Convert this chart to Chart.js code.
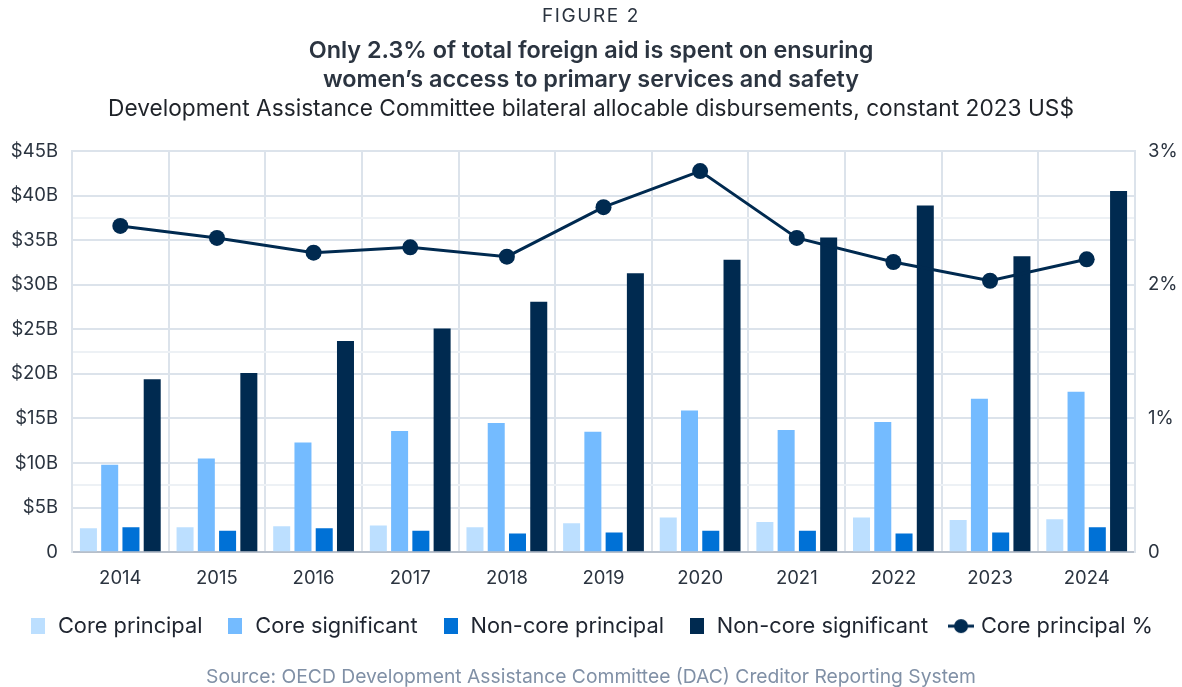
<!DOCTYPE html>
<html>
<head>
<meta charset="utf-8">
<script src="https://cdn.jsdelivr.net/npm/chart.js@4.4.1/dist/chart.umd.min.js"></script>
<style>
  html, body { margin: 0; padding: 0; background: #ffffff; }
  body { width: 1182px; height: 687px; position: relative; overflow: hidden; font-family: Inter, "Noto Sans", sans-serif; }
  .line { position: absolute; left: 0; width: 1182px; text-align: center; white-space: nowrap; }
  #fig { top: 4px; font-size: 19px; line-height: 24px; letter-spacing: 1.6px; color: #2b3440; }
  #t1 { top: 36px; font-size: 23.4px; line-height: 28px; font-weight: 600; color: #2b3440; }
  #t2 { top: 65px; font-size: 23.4px; line-height: 28px; font-weight: 600; color: #2b3440; }
  #sub { top: 94px; font-size: 22.7px; line-height: 28px; color: #1f2329; }
  #src { top: 664px; font-size: 19.3px; line-height: 24px; color: #8090a6; }
  #wrap { position: absolute; left: 0; top: 0; width: 1182px; height: 687px; }
</style>
</head>
<body>
<div id="wrap"><canvas id="chart" width="1182" height="687"></canvas></div>
<div class="line" id="fig">FIGURE 2</div>
<div class="line" id="t1">Only 2.3% of total foreign aid is spent on ensuring</div>
<div class="line" id="t2">women’s access to primary services and safety</div>
<div class="line" id="sub">Development Assistance Committee bilateral allocable disbursements, constant 2023 US$</div>
<div class="line" id="src">Source: OECD Development Assistance Committee (DAC) Creditor Reporting System</div>
<script>
// Years on the category axis
const years = ['2014', '2015', '2016', '2017', '2018', '2019', '2020', '2021', '2022', '2023', '2024'];

// Disbursements, billions of constant 2023 US$
const corePrincipal      = [2.7, 2.8, 2.9, 3.0, 2.8, 3.25, 3.9, 3.4, 3.9, 3.6, 3.7];
const coreSignificant    = [9.8, 10.5, 12.3, 13.6, 14.5, 13.5, 15.9, 13.7, 14.6, 17.2, 18.0];
const nonCorePrincipal   = [2.8, 2.4, 2.7, 2.4, 2.1, 2.2, 2.4, 2.4, 2.1, 2.2, 2.8];
const nonCoreSignificant = [19.4, 20.1, 23.7, 25.1, 28.1, 31.3, 32.8, 35.3, 38.9, 33.2, 40.5];

// Core principal share of total aid, percent
const corePrincipalPct   = [2.44, 2.35, 2.24, 2.28, 2.21, 2.58, 2.85, 2.35, 2.17, 2.03, 2.19];

// Axis tick values
const dollarTicks  = [0, 5, 10, 15, 20, 25, 30, 35, 40, 45];
const percentTicks = [0, 0.5, 1, 1.5, 2, 2.5, 3];

const C_LIGHT = '#bcdfff';
const C_MID   = '#74bbff';
const C_BLUE  = '#0071d6';
const C_NAVY  = '#002a50';
const GRID    = '#dce3eb';
const INK     = '#2b3440';

Chart.defaults.font.family = 'Inter, "Noto Sans", sans-serif';
Chart.defaults.color = INK;

// Legend icons drawn onto small canvases
function boxIcon(color) {
  const c = document.createElement('canvas');
  c.width = 14; c.height = 16;
  const g = c.getContext('2d');
  g.fillStyle = color;
  g.fillRect(0, 0, 14, 16);
  return c;
}
function lineIcon(color) {
  const c = document.createElement('canvas');
  c.width = 26; c.height = 16;
  const g = c.getContext('2d');
  g.strokeStyle = color; g.lineWidth = 3;
  g.beginPath(); g.moveTo(0, 8); g.lineTo(26, 8); g.stroke();
  g.fillStyle = color;
  g.beginPath(); g.arc(13, 8, 7, 0, Math.PI * 2); g.fill();
  return c;
}

const datasets = [
  {
    type: 'line', label: 'Core principal %', data: corePrincipalPct, yAxisID: 'yPct',
    borderColor: C_NAVY, backgroundColor: C_NAVY, borderWidth: 3,
    pointRadius: 8, pointHoverRadius: 8, pointBackgroundColor: C_NAVY, pointBorderWidth: 0,
    tension: 0, icon: lineIcon(C_NAVY), legendRank: 4
  },
  { type: 'bar', label: 'Core principal', data: corePrincipal, backgroundColor: C_LIGHT, yAxisID: 'y', icon: boxIcon(C_LIGHT), legendRank: 0 },
  { type: 'bar', label: 'Core significant', data: coreSignificant, backgroundColor: C_MID, yAxisID: 'y', icon: boxIcon(C_MID), legendRank: 1 },
  { type: 'bar', label: 'Non-core principal', data: nonCorePrincipal, backgroundColor: C_BLUE, yAxisID: 'y', icon: boxIcon(C_BLUE), legendRank: 2 },
  { type: 'bar', label: 'Non-core significant', data: nonCoreSignificant, backgroundColor: C_NAVY, yAxisID: 'y', icon: boxIcon(C_NAVY), legendRank: 3 }
];

new Chart(document.getElementById('chart'), {
  data: { labels: years, datasets },
  options: {
    responsive: false,
    animation: false,
    events: [],
    categoryPercentage: 0.88,
    barPercentage: 0.8,
    layout: { padding: { top: 151, bottom: 40, left: 0, right: 0 } },
    plugins: {
      tooltip: { enabled: false },
      legend: {
        position: 'bottom',
        labels: {
          usePointStyle: true,
          pointStyleWidth: 18,
          boxHeight: 16,
          padding: 24,
          color: '#1f2530',
          font: { size: 21.8 },
          generateLabels(chart) {
            const items = Chart.defaults.plugins.legend.labels.generateLabels(chart);
            items.forEach(it => { it.pointStyle = chart.data.datasets[it.datasetIndex].icon; });
            return items;
          },
          sort: (a, b, data) => data.datasets[a.datasetIndex].legendRank - data.datasets[b.datasetIndex].legendRank
        }
      }
    },
    scales: {
      x: {
        grid: { offset: true, color: GRID, lineWidth: 2, drawTicks: false },
        border: { color: '#b7bfca', width: 2 },
        ticks: { padding: 15, font: { size: 18.5 }, color: INK },
        afterFit(s) { s.height = 39; }
      },
      y: {
        position: 'left',
        min: 0, max: 45,
        afterBuildTicks(s) { s.ticks = dollarTicks.map(v => ({ value: v })); },
        grid: { color: GRID, lineWidth: 2, drawTicks: false },
        border: { color: GRID, width: 2 },
        ticks: {
          padding: 14, font: { size: 18.5 }, color: INK,
          callback: v => (v === 0 ? '0' : '$' + v + 'B')
        },
        afterFit(s) { s.width = 72; }
      },
      yPct: {
        position: 'right',
        min: 0, max: 3,
        afterBuildTicks(s) { s.ticks = percentTicks.map(v => ({ value: v })); },
        grid: {
          drawTicks: false, lineWidth: 2,
          color: ctx => (ctx.tick && ctx.tick.value % 1 !== 0 ? '#edf1f5' : 'rgba(0,0,0,0)')
        },
        border: { color: GRID, width: 2 },
        ticks: {
          padding: 13, font: { size: 18.5 }, color: INK,
          callback: v => (v % 1 !== 0 ? '' : (v === 0 ? '0' : v + '%'))
        },
        afterFit(s) { s.width = 47; }
      }
    }
  }
});
</script>
</body>
</html>
